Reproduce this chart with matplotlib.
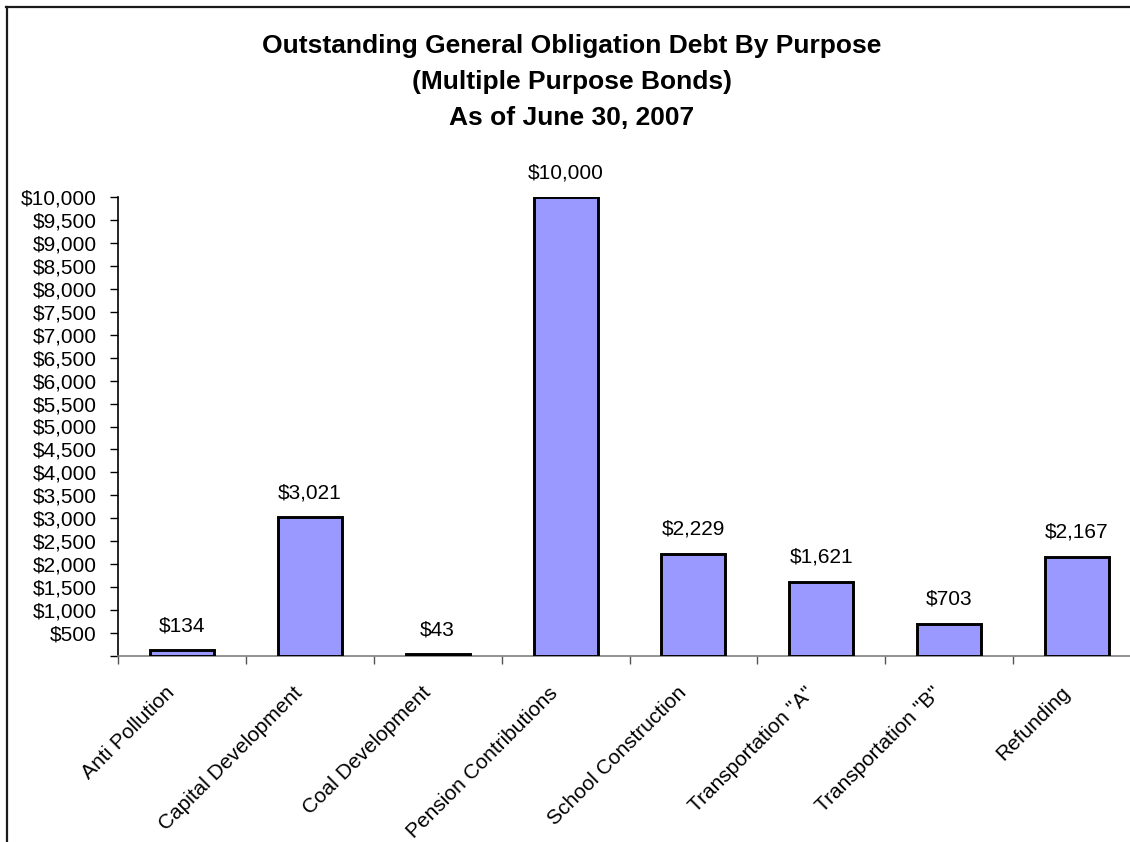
import matplotlib
matplotlib.use('Agg')  # no display
import matplotlib.pyplot as plt
from matplotlib.lines import Line2D
from matplotlib.ticker import FixedLocator, FuncFormatter
from matplotlib.transforms import ScaledTranslation

# data (millions of dollars)
categories = ['Anti Pollution', 'Capital Development', 'Coal Development',
              'Pension Contributions', 'School Construction',
              'Transportation "A"', 'Transportation "B"', 'Refunding']
values = [134, 3021, 43, 10000, 2229, 1621, 703, 2167]
bar_labels = ['$134', '$3,021', '$43', '$10,000', '$2,229', '$1,621', '$703', '$2,167']
title_lines = ['Outstanding General Obligation Debt By Purpose',
               '(Multiple Purpose Bonds)',
               'As of June 30, 2007']

plt.rcParams['font.family'] = ['Liberation Sans', 'DejaVu Sans']

W, H = 1130, 842
fig = plt.figure(figsize=(W / 100, H / 100), dpi=100)

# chart area border (right and bottom sides fall outside the picture)
fig.add_artist(Line2D([6 / W, 1.0], [1 - 6.5 / H, 1 - 6.5 / H], color='#1a1a1a', lw=1.6))
fig.add_artist(Line2D([6.5 / W, 6.5 / W], [0.0, 1 - 6.5 / H], color='#1a1a1a', lw=1.6))

# plot area spans past the right edge, as in the reference
ax = fig.add_axes([118 / W, 186 / H, 1023 / W, 459 / H])

x = list(range(len(categories)))
ax.bar(x, values, width=0.5, color='#9999ff', edgecolor='black', linewidth=2.1, zorder=3)

for xi, v, lab in zip(x, values, bar_labels):
    ax.annotate(lab, (xi, v), xytext=(0, 17.5), textcoords='offset points',
                ha='center', va='center', fontsize=15)

ax.set_xlim(-0.5, len(categories) - 0.5)
ax.set_ylim(0, 10000)

ax.yaxis.set_major_locator(FixedLocator(range(0, 10001, 500)))
ax.yaxis.set_major_formatter(FuncFormatter(lambda v, p: '' if v == 0 else '${:,.0f}'.format(v)))
ax.tick_params(axis='y', direction='out', length=6, width=1, color='black', pad=9.5, labelsize=15)

ax.set_xticks(x)
ax.set_xticklabels(categories, rotation=45, ha='right', rotation_mode='anchor', fontsize=15)
ax.xaxis.set_minor_locator(FixedLocator([i + 0.5 for i in range(-1, len(categories))]))
ax.tick_params(axis='x', which='major', length=0, pad=24)
ax.tick_params(axis='x', which='minor', direction='out', length=6, width=1, color='#555555')
# excel puts the end of the slanted label a bit left of the category centre
shift = ScaledTranslation(-0.17, 0.06, fig.dpi_scale_trans)
for lbl in ax.get_xticklabels():
    lbl.set_transform(lbl.get_transform() + shift)

for s in ['top', 'right']:
    ax.spines[s].set_visible(False)
ax.spines['left'].set_color('black')
ax.spines['left'].set_linewidth(1.2)
ax.spines['bottom'].set_color('#808080')
ax.spines['bottom'].set_linewidth(1.2)

fig.text(572 / W, 1 - 82 / H, '\n'.join(title_lines), ha='center', va='center',
         fontsize=19, fontweight='bold', linespacing=1.62)

fig.savefig('out.png', dpi=100)
